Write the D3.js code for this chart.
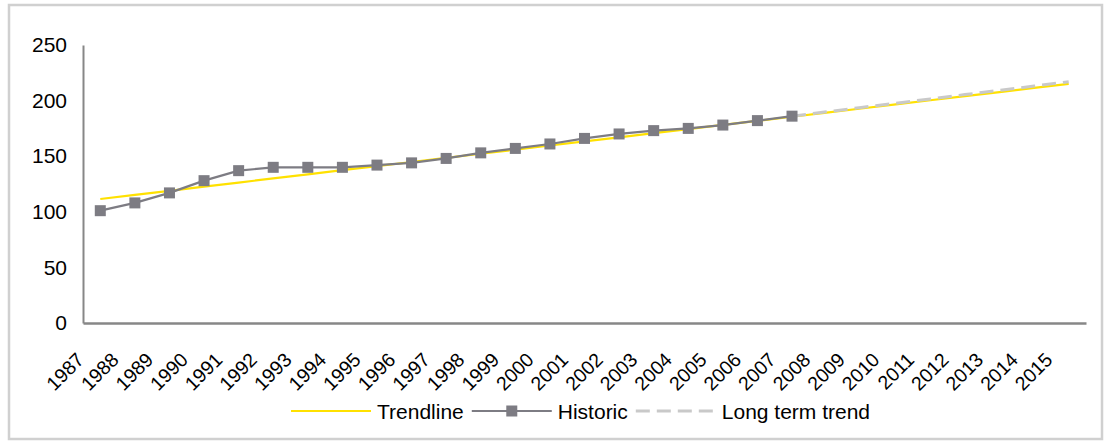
<!DOCTYPE html>
<html>
<head>
<meta charset="utf-8">
<script src="https://cdn.jsdelivr.net/npm/d3@7"></script>
<style>
  html, body { margin: 0; padding: 0; background: #fff; }
  svg { display: block; }
  text { font-family: "Liberation Sans", Arial, sans-serif; fill: #000; }
</style>
</head>
<body>
<svg id="chart" width="1105" height="444"></svg>
<script>
// ---- data ----
const years = ["1987","1988","1989","1990","1991","1992","1993","1994","1995","1996",
  "1997","1998","1999","2000","2001","2002","2003","2004","2005","2006","2007",
  "2008","2009","2010","2011","2012","2013","2014","2015"];
const historicYears = years.slice(0, 21);
const historic = [101,108,117,128,137,140,140,140,142,144,148,153,157,161,166,170,173,175,178,182,186];
const trendline = [111.5,115.2,118.9,122.6,126.3,130.0,133.7,137.4,141.1,144.8,148.5,152.2,155.9,159.6,
  163.3,167.0,170.7,174.4,178.1,181.8,185.5,189.2,192.9,196.6,200.3,204.0,207.7,211.4,215.1];
const longTermYears = ["2007","2008","2009","2010","2011","2012","2013","2014","2015"];
const longTerm = [186,189.9,193.8,197.6,201.5,205.4,209.2,213.1,217];
const yTicks = [0,50,100,150,200,250];
const seriesNames = ["Trendline","Historic","Long term trend"];

// ---- layout ----
const svg = d3.select("#chart");
const plotLeft = 83, plotRight = 1086, plotTop = 45, plotBottom = 323;

const gray = "#7d7c83", yellow = "#ffe100", dashGray = "#c9c9c9", axisGray = "#878787";

// frame
svg.append("rect").attr("x", 9).attr("y", 5).attr("width", 1093).attr("height", 434)
  .attr("fill", "#fff").attr("stroke", "#d0d0d0").attr("stroke-width", 2.5);

const x = d3.scaleBand().domain(years).range([plotLeft, plotRight]);
const y = d3.scaleLinear().domain([0, 250]).range([plotBottom, plotTop]);
const cx = d => x(d) + x.bandwidth() / 2;

// y axis
const yAxis = svg.append("g").attr("transform", `translate(${plotLeft},0)`)
  .call(d3.axisLeft(y).tickValues(yTicks).tickSize(0).tickPadding(16));
yAxis.select(".domain").attr("stroke", axisGray).attr("stroke-width", 2);
yAxis.selectAll("text").attr("font-size", "21px").attr("font-family", "Liberation Sans, Arial, sans-serif")
  .attr("fill", "#000");

// x axis
const xAxis = svg.append("g").attr("transform", `translate(0,${plotBottom})`)
  .call(d3.axisBottom(x).tickSize(0).tickFormat(d => d));
xAxis.select(".domain").attr("stroke", axisGray).attr("stroke-width", 2.5);
xAxis.selectAll("text")
  .attr("font-size", "19.5px").attr("font-family", "Liberation Sans, Arial, sans-serif").attr("fill", "#000")
  .attr("text-anchor", "end").attr("dy", null).attr("y", null)
  .attr("transform", "translate(-15,38) rotate(-45)");

// lines
const line = d3.line().x(d => cx(d[0])).y(d => y(d[1]));

svg.append("path").datum(years.map((yr, i) => [yr, trendline[i]]))
  .attr("d", line).attr("fill", "none").attr("stroke", yellow).attr("stroke-width", 2.2);

svg.append("path").datum(longTermYears.map((yr, i) => [yr, longTerm[i]]))
  .attr("d", line).attr("fill", "none").attr("stroke", dashGray).attr("stroke-width", 3)
  .attr("stroke-dasharray", "14,7");

svg.append("path").datum(historicYears.map((yr, i) => [yr, historic[i]]))
  .attr("d", line).attr("fill", "none").attr("stroke", gray).attr("stroke-width", 2.2);

const ms = 11;
svg.selectAll("rect.marker").data(historicYears.map((yr, i) => [yr, historic[i]]))
  .join("rect").attr("class", "marker")
  .attr("x", d => cx(d[0]) - ms / 2).attr("y", d => y(d[1]) - ms / 2)
  .attr("width", ms).attr("height", ms).attr("fill", gray);

// legend
const lg = svg.append("g");
const ly = 411;
let lx = 291;
const swatch = 80;
seriesNames.forEach((name, i) => {
  const g = lg.append("g");
  const l = g.append("line").attr("x1", lx).attr("x2", lx + swatch).attr("y1", ly).attr("y2", ly);
  if (i === 0) l.attr("stroke", yellow).attr("stroke-width", 2.2);
  if (i === 1) {
    l.attr("stroke", gray).attr("stroke-width", 2.2);
    g.append("rect").attr("x", lx + swatch / 2 - 5.5).attr("y", ly - 5.5).attr("width", 11).attr("height", 11).attr("fill", gray);
  }
  if (i === 2) l.attr("stroke", dashGray).attr("stroke-width", 3).attr("stroke-dasharray", "14,7");
  const t = g.append("text").attr("x", lx + swatch + 6).attr("y", ly + 7.5)
    .attr("font-size", "21px").text(name);
  lx = lx + swatch + 6 + t.node().getComputedTextLength() + 8;
});
</script>
</body>
</html>
